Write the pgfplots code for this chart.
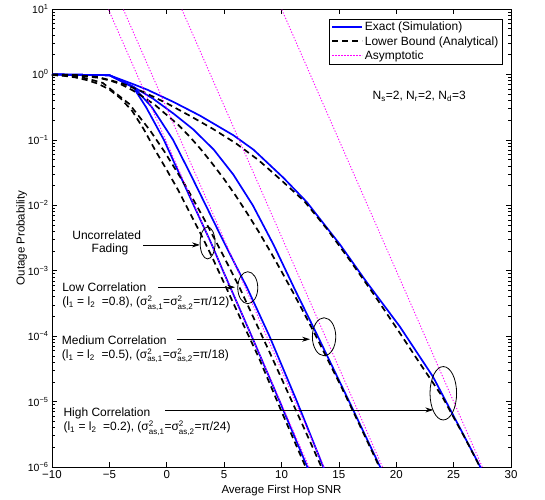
\documentclass[border=0pt]{standalone}
\usepackage{fontspec}
\setmainfont{Liberation Sans}
\usepackage{amsmath}
\usepackage{pgfplots}
\pgfplotsset{compat=1.18}
\usetikzlibrary{arrows.meta}

\definecolor{simblue}{RGB}{0,0,255}
\definecolor{asymag}{RGB}{255,0,255}

\tikzset{
  exact/.style={simblue, line width=1.7pt, line join=round},
  lbound/.style={black, line width=1.7pt, dash pattern=on 6pt off 4pt},
  asym/.style={asymag, line width=0.9pt, dash pattern=on 1.2pt off 1.8pt},
  note/.style={font=\fontsize{12}{14}\selectfont, inner sep=0pt},
  ann/.style={-{Stealth[length=8pt,width=5pt]}, line width=0.8pt},
}
\newcommand\sig[1]{$\text{σ}^{\text{2}}_{\text{as,#1}}$}

\begin{document}
\begin{tikzpicture}
\path[use as bounding box] (-52pt,-32pt) rectangle (493pt,467pt);
\begin{axis}[
  width=459pt, height=458pt, scale only axis,
  xmin=-10, xmax=30, ymin=1e-6, ymax=10, ymode=log,
  xtick={-10,-5,...,30},
  xticklabels={−10,−5,0,5,10,15,20,25,30},
  ytick={1e-6,1e-5,1e-4,1e-3,1e-2,1e-1,1,10},
  yticklabels={10\textsuperscript{−6},10\textsuperscript{−5},10\textsuperscript{−4},10\textsuperscript{−3},10\textsuperscript{−2},10\textsuperscript{−1},10\textsuperscript{0},10\textsuperscript{1}},
  xticklabel style={font=\fontsize{11.5}{13}\selectfont},
  yticklabel style={font=\fontsize{10.5}{12}\selectfont},
  label style={font=\fontsize{11.5}{13}\selectfont},
  xlabel={Average First Hop SNR},
  ylabel={Outage Probability},
  ylabel shift=-6pt,
  axis line style={line width=0.8pt},
  major tick length=5pt, minor tick length=3pt,
  every tick/.style={black, line width=0.6pt},
  legend style={at={(1,1)}, anchor=north east, xshift=-9pt, yshift=-10pt,
    draw=black, fill=white,
    font=\fontsize{12}{14}\selectfont, inner xsep=2pt, inner ysep=2pt, row sep=2pt,
    nodes={inner xsep=1.5pt, inner ysep=1pt}},
  legend cell align=left,
  legend image code/.code={\draw[#1] (0pt,0pt) -- (30pt,0pt);},
]

% legend keys
\addlegendimage{color=simblue, line width=2pt}
\addlegendentry{Exact (Simulation)}
\addlegendimage{color=black, line width=2pt, dash pattern=on 6pt off 4pt}
\addlegendentry{Lower Bound (Analytical)}
\addlegendimage{color=asymag, line width=1.2pt, dash pattern=on 1.2pt off 1.8pt}
\addlegendentry{Asymptotic}

% exact (simulation)
\addplot[exact, forget plot] coordinates {(-10,1) (-5,0.973) (-2.9,0.631) (-1.8,0.316) (-0.25,0.1) (1.05,0.0316) (2.35,0.01) (3.85,2.69e-3) (4.9,1e-3) (7.4,1e-4) (9.85,1e-5) (12.25,1e-6) (12.5,7.94e-7)};
\addplot[exact, forget plot] coordinates {(-10,1) (-5,0.973) (-2.9,0.646) (-1.3,0.316) (0.55,0.1) (2.0,0.0316) (3.4,0.01) (5.0,2.69e-3) (7.0,5.50e-4) (8.95,1e-4) (11.35,1e-5) (13.65,1e-6) (13.9,7.94e-7)};
\addplot[exact, forget plot] coordinates {(-10,1) (-5,0.973) (-2.9,0.646) (-1.2,0.427) (0.6,0.251) (2.3,0.145) (4.1,0.0708) (5.8,0.0295) (7.5,0.01) (9.3,2.51e-3) (11.2,5.01e-4) (13.1,1.05e-4) (15.9,1e-5) (18.6,1e-6) (18.9,7.94e-7)};
\addplot[exact, forget plot] coordinates {(-10,1) (-5,0.973) (-2.9,0.708) (-1.74,0.589) (0.58,0.380) (2.91,0.234) (5.81,0.1175) (7.56,0.0708) (10.17,0.0263) (12.2,0.01122) (15.1,2.51e-3) (17.4,6.76e-4) (20.3,1.41e-4) (23.2,2.40e-5) (27.15,1.15e-6) (27.5,8.71e-7)};

% lower bound (analytical)
\addplot[lbound, forget plot] coordinates {(-10,0.977) (-9,0.955) (-8,0.902) (-7,0.822) (-6,0.724) (-5,0.589) (-4,0.427) (-3,0.275) (-2,0.145) (-1,0.0692) (0,0.0347) (1,0.0170) (2,7.76e-3) (3,3.55e-3) (4,1.55e-3) (6,2.69e-4) (8,4.79e-5) (10,7.08e-6) (12.1,1e-6) (12.4,7.59e-7)};
\addplot[lbound, forget plot] coordinates {(-10,0.986) (-8,0.933) (-7,0.871) (-5.575,0.741) (-3.275,0.355) (-1.475,0.141) (-0.2,0.0661) (1.7,0.0191) (3.35,5.75e-3) (4.9,1.74e-3) (6.35,5.50e-4) (8.975,5.62e-5) (11.95,3.98e-6) (13.48,1e-6) (13.8,7.59e-7)};
\addplot[lbound, forget plot] coordinates {(-10,0.995) (-8,0.973) (-6,0.891) (-5,0.813) (-4,0.708) (-3,0.575) (-2,0.447) (-1,0.339) (0,0.240) (1,0.170) (2,0.112) (3,0.0708) (4,0.0427) (5,0.0251) (6,0.0141) (7,7.59e-3) (8,3.98e-3) (9,2.00e-3) (10,9.77e-4) (11,4.68e-4) (12,2.19e-4) (13,1e-4) (14,4.47e-5) (15,2.00e-5) (16,8.71e-6) (17,3.72e-6) (18,1.58e-6) (18.8,7.94e-7)};
\addplot[lbound, forget plot] coordinates {(-10,0.998) (-8,0.982) (-6,0.912) (-4,0.741) (-2,0.537) (0,0.363) (2,0.234) (4,0.148) (6,0.0891) (8,0.049) (10,0.024) (12,0.01148) (14,4.27e-3) (16,1.41e-3) (18,4.47e-4) (20,1.35e-4) (22,3.98e-5) (24,1.20e-5) (26,2.75e-6) (27.5,8.51e-7)};

% asymptotic
\addplot[asym, forget plot] coordinates {(-5.6,15.85) (12.9,6.31e-7)};
\addplot[asym, forget plot] coordinates {(-4.3,15.85) (14.2,6.31e-7)};
\addplot[asym, forget plot] coordinates {(0.8,15.85) (19.3,6.31e-7)};
\addplot[asym, forget plot] coordinates {(9.5,15.85) (28.0,6.31e-7)};

% annotations
\node[note, anchor=base] at (axis cs:22.0,0.408) {N$_{\text{s}}$=2, N$_{\text{r}}$=2, N$_{\text{d}}$=3};

\node[note, anchor=base] at (axis cs:-5.23,3.01e-3) {Uncorrelated};
\node[note, anchor=base] at (axis cs:-4.94,1.91e-3) {Fading};
\draw[ann] (axis cs:-2.04,2.48e-3) -- (axis cs:2.9,2.48e-3);
\draw[line width=0.8pt] (axis cs:3.56,2.66e-3) ellipse [x radius=7.5pt, y radius=16pt];

\node[note, anchor=base west] at (axis cs:-9.12,4.74e-4) {Low Correlation};
\node[note, anchor=base west] at (axis cs:-9.12,2.89e-4) {(l$_{\text{1}}$ = l$_{\text{2}}$\ \ =0.8), (\sig{1}=\sig{2}=π/12)};
\draw[ann] (axis cs:-0.73,5.60e-4) -- (axis cs:5.95,5.60e-4);
\draw[line width=0.8pt] (axis cs:7.06,5.5e-4) ellipse [x radius=10pt, y radius=16pt];

\node[note, anchor=base west] at (axis cs:-9.15,7.46e-5) {Medium Correlation};
\node[note, anchor=base west] at (axis cs:-9.15,4.56e-5) {(l$_{\text{1}}$ = l$_{\text{2}}$\ \ =0.5), (\sig{1}=\sig{2}=π/18)};
\draw[ann] (axis cs:0.87,8.97e-5) -- (axis cs:12.49,8.97e-5);
\draw[line width=0.8pt] (axis cs:13.71,9.8e-5) ellipse [x radius=11.7pt, y radius=19pt];

\node[note, anchor=base west] at (axis cs:-9.01,5.82e-6) {High Correlation};
\node[note, anchor=base west] at (axis cs:-9.01,3.56e-6) {(l$_{\text{1}}$ = l$_{\text{2}}$\ \ =0.2), (\sig{1}=\sig{2}=π/24)};
\draw[ann] (axis cs:-0.15,7.45e-6) -- (axis cs:23.23,7.45e-6);
\draw[line width=0.8pt] (axis cs:24.1,1.34e-5) ellipse [x radius=13.3pt, y radius=26.7pt];

\end{axis}
\end{tikzpicture}
\end{document}
